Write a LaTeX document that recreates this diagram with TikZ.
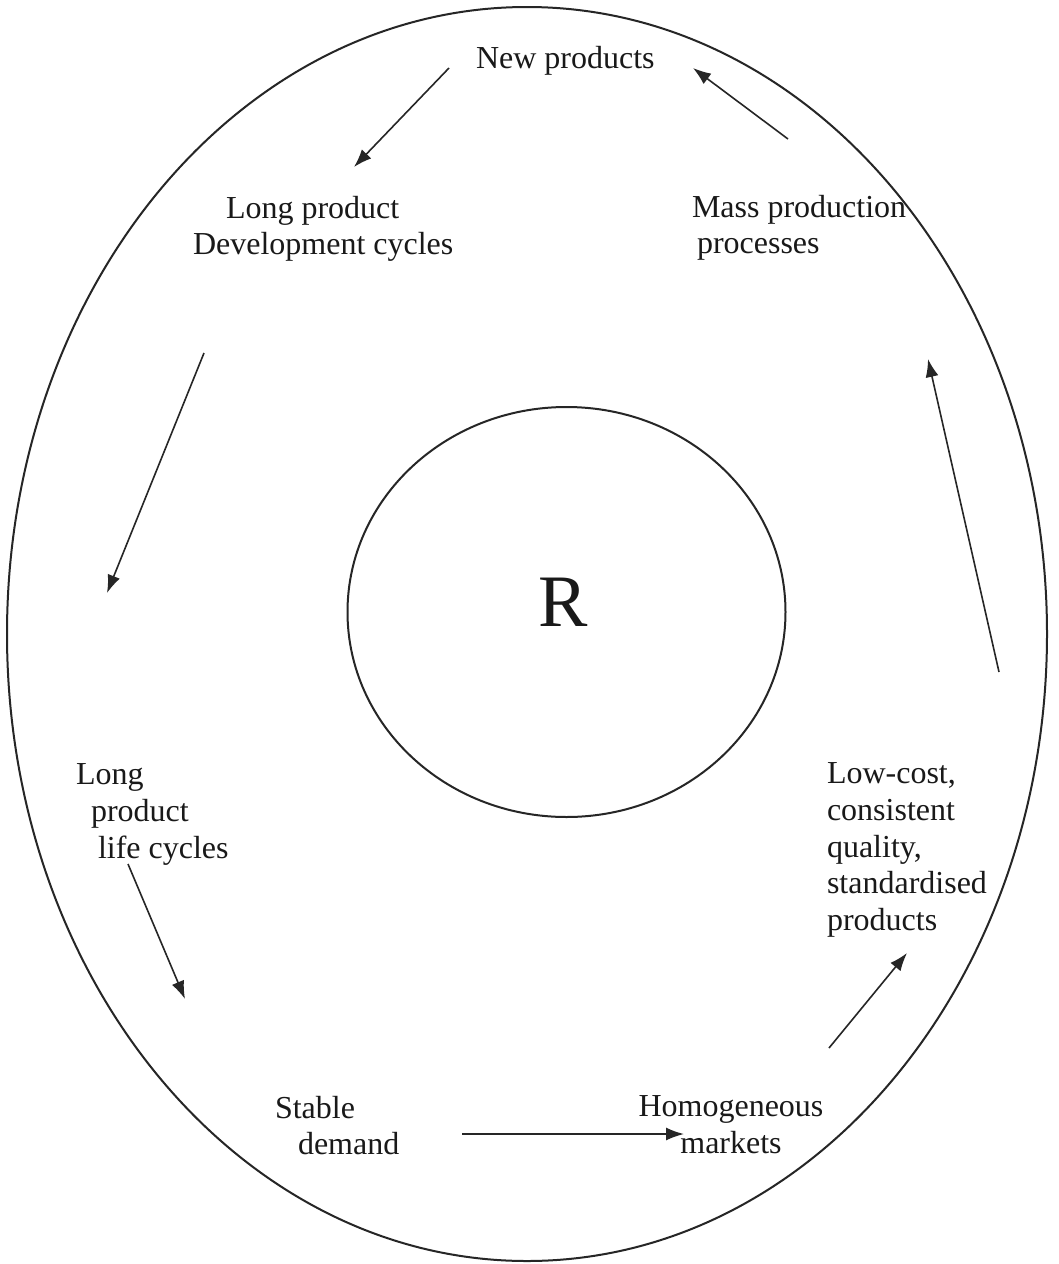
\documentclass[tikz,border=0pt]{standalone}
\usepackage{fontspec}
\setmainfont{Liberation Serif}
\usetikzlibrary{arrows.meta}
\tikzset{
  lbl/.style={inner sep=0pt, outer sep=0pt, font=\fontsize{32}{36.6}\selectfont, text=black!90},
  flow/.style={line width=1.6pt, draw=black!85, -{Latex[length=18pt,width=13pt]}},
  ring/.style={line width=2pt, draw=black!85}
}
\begin{document}
\begin{tikzpicture}[x=1pt,y=-1pt]
\useasboundingbox (0,0) rectangle (1059,1264);
\fill[white] (0,0) rectangle (1059,1264);
% rings
\draw[ring] (527,634) ellipse [x radius=520, y radius=627];
\draw[ring] (566.5,612) ellipse [x radius=219, y radius=205];
\node[inner sep=0pt, anchor=north, font=\fontsize{74}{80}\selectfont, text=black!90] (R) at (563,578) {R};
% labels
\node[lbl, anchor=north west] (np) at (476,46) {New products};
\node[lbl, anchor=north west, align=left] (lpd) at (193,196) {\hspace*{33pt}Long product\\Development cycles};
\node[lbl, anchor=north west, align=left] (mpp) at (692,195) {Mass production\\\hspace*{5pt}processes};
\node[lbl, anchor=north west, align=left] (lplc) at (76,764) {Long\\\hspace*{15pt}product\\\hspace*{22pt}life cycles};
\node[lbl, anchor=north west, align=left] (lcq) at (827,763) {Low-cost,\\consistent\\quality,\\standardised\\products};
\node[lbl, anchor=north west, align=left] (sd) at (275,1096) {Stable\\\hspace*{23pt}demand};
\node[lbl, anchor=north, align=center] (hm) at (731,1096) {Homogeneous\\markets};
% arrow end points
\coordinate (a1s) at (449,68);  \coordinate (a1e) at (354,167);
\coordinate (a2s) at (204,353); \coordinate (a2e) at (107,593);
\coordinate (a3s) at (128,864); \coordinate (a3e) at (185,999);
\coordinate (a4s) at (462,1134); \coordinate (a4e) at (684,1134);
\coordinate (a5s) at (829,1048); \coordinate (a5e) at (907,953);
\coordinate (a6s) at (999,672); \coordinate (a6e) at (928,359);
\coordinate (a7s) at (788,139); \coordinate (a7e) at (693,68);
\draw[flow] (a1s) -- (a1e);
\draw[flow] (a2s) -- (a2e);
\draw[flow] (a3s) -- (a3e);
\draw[flow] (a4s) -- (a4e);
\draw[flow] (a5s) -- (a5e);
\draw[flow] (a6s) -- (a6e);
\draw[flow] (a7s) -- (a7e);
\end{tikzpicture}
\end{document}
